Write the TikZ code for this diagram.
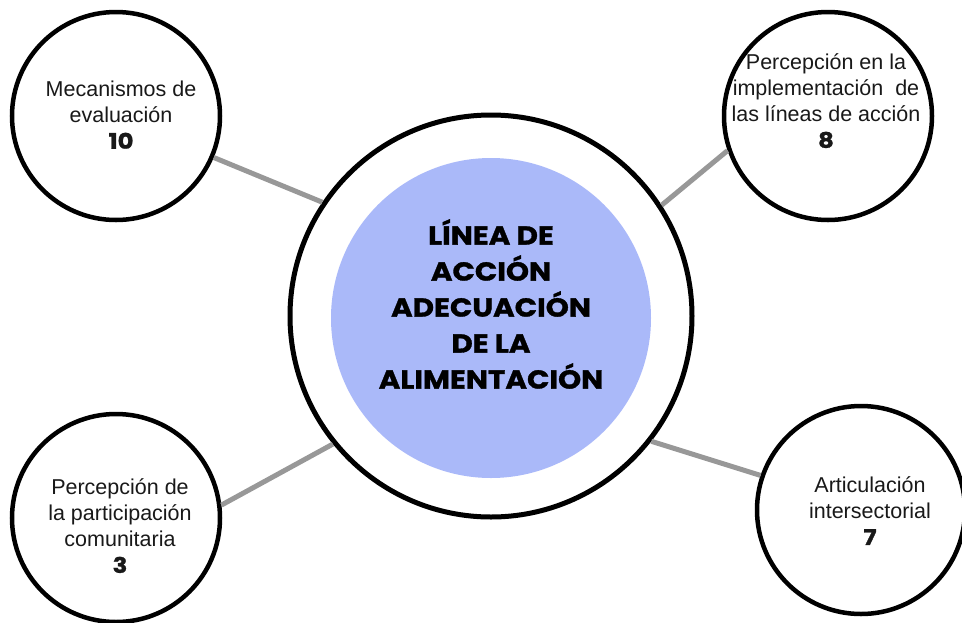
\documentclass[tikz,border=0pt]{standalone}
\usepackage{fontspec}
\setmainfont{Liberation Sans}
\newfontfamily\titlefont{Poppins}[BoldFeatures={FakeStretch=1.13,FakeBold=1.2}]
\definecolor{lav}{RGB}{170,185,249}
\definecolor{conn}{RGB}{152,152,152}
\definecolor{ink}{RGB}{25,25,25}
\tikzset{
  ring/.style={circle, draw=black, line width=4.5pt, fill=white, inner sep=0pt},
  smallring/.style={ring, minimum size=208pt},
  txt/.style={align=center, text=ink, font=\fontsize{21.5}{26}\selectfont},
  link/.style={draw=conn, line width=5pt}
}
\begin{document}
\begin{tikzpicture}[x=1pt,y=-1pt]
\useasboundingbox (0,0) rectangle (962,622);
% circles
\node[ring, minimum size=402pt, line width=5pt] (big) at (491,316) {};
\node[circle, fill=lav, minimum size=320pt, inner sep=0pt] (core) at (491,318) {};
\node[smallring] (tl) at (116,116) {};
\node[smallring] (tr) at (828,116) {};
\node[smallring] (bl) at (116,518) {};
\node[smallring] (br) at (861,510) {};
% connectors
\draw[link] (tl.-23) -- (big.146);
\draw[link] (tr.199) -- (big.33);
\draw[link] (bl.7) -- (big.219);
\draw[link] (br.161) -- (big.-38);
% texts
\node[align=center, font=\titlefont\bfseries\fontsize{26}{36}\selectfont] (title) at (491,304)
  {LÍNEA DE\\ACCIÓN\\ADECUACIÓN\\DE LA\\ALIMENTACIÓN};
\node[txt] (ttl) at (121,115) {Mecanismos de\\evaluación\\{\titlefont\bfseries 10}};
\node[txt] (ttr) at (826,101) {Percepción en la\\implementación~~de\\las líneas de acción\\{\titlefont\bfseries 8}};
\node[txt] (tbl) at (120,526) {Percepción de\\la participación\\comunitaria\\{\titlefont\bfseries 3}};
\node[txt] (tbr) at (870,511) {Articulación\\intersectorial\\{\titlefont\bfseries 7}};
\end{tikzpicture}
\end{document}
